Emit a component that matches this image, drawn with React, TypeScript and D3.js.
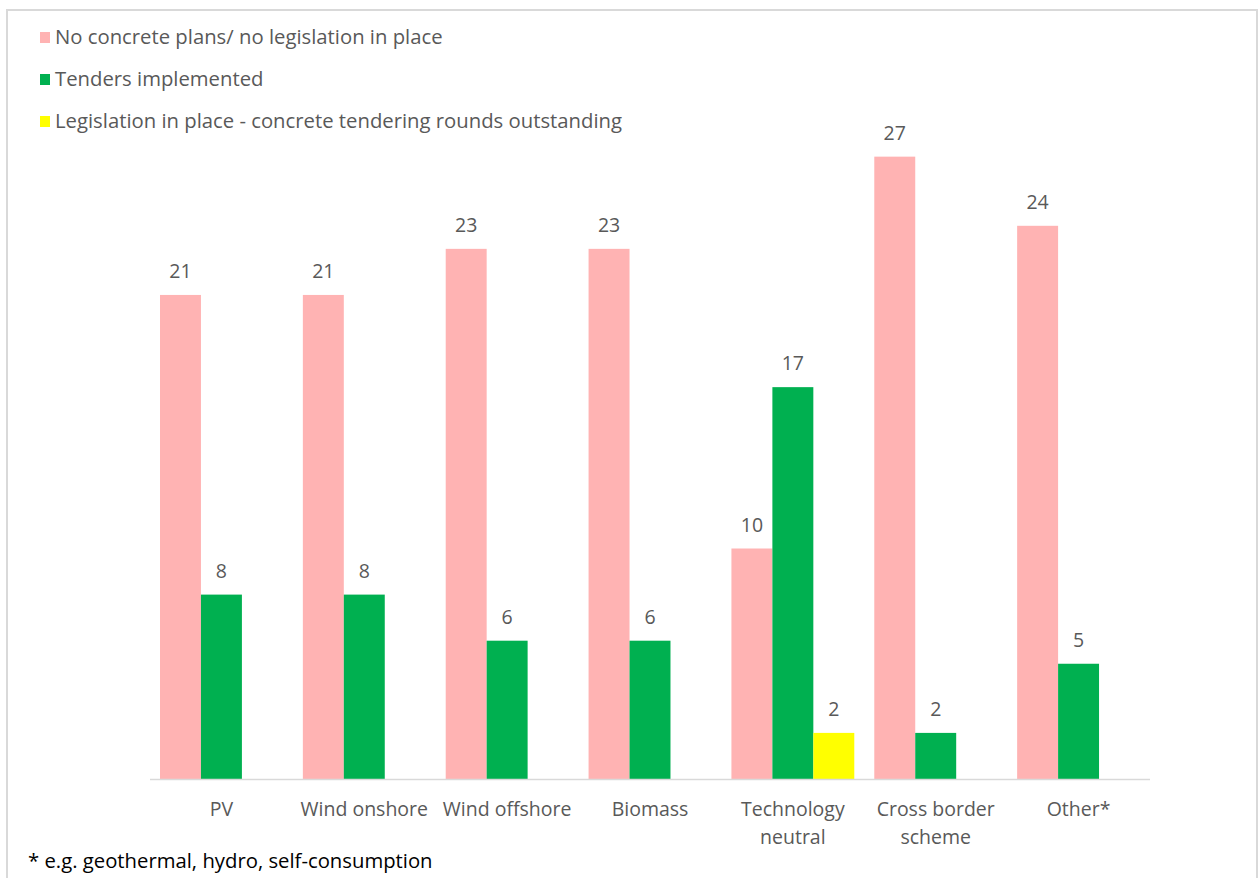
import React from "react";
import * as d3 from "d3";

const categories = [["PV"], ["Wind onshore"], ["Wind offshore"], ["Biomass"], ["Technology", "neutral"], ["Cross border", "scheme"], ["Other*"]];
const seriesNames = [
  "No concrete plans/ no legislation in place",
  "Tenders implemented",
  "Legislation in place - concrete tendering rounds outstanding",
];
const noPlans = [21, 21, 23, 23, 10, 27, 24];
const tenders = [8, 8, 6, 6, 17, 2, 5];
const legislation = [0, 0, 0, 0, 2, 0, 0];
const colors = ["#ffb3b3", "#00b050", "#ffff00"];
const footnote = "* e.g. geothermal, hydro, self-consumption";

const W = 1258;
const H = 878;
const FONT = "'Open Sans', 'Noto Sans', sans-serif";
const TEXT = "#595959";
const FS = 19.5;
const FS_LEG = 20.3;

export default function App() {
  const series = [noPlans, tenders, legislation];
  const keys = categories.map((c) => c.join(" "));
  const x0 = d3.scaleBand<string>().domain(keys).range([150, 1150]).paddingInner(0.14).paddingOuter(0.07);
  const x1 = d3.scaleBand<number>().domain([0, 1, 2]).range([0, x0.bandwidth()]);
  const y = d3.scaleLinear().domain([0, 30]).range([779, 87.5]);

  return (
    <svg width={W} height={H} style={{ position: "absolute", left: 0, top: 0 }} fontFamily={FONT}>
      <rect x={0} y={0} width={W} height={H} fill="#fff" />
      <rect x={7} y={10} width={1250} height={880} fill="none" stroke="#d9d9d9" strokeWidth={2} />
      {seriesNames.map((n, i) => (
        <g key={n} transform={`translate(40,${44 + i * 42})`}>
          <rect x={0} y={-12} width={10} height={11} fill={colors[i]} />
          <text x={15} y={0} fontSize={FS_LEG} fill={TEXT}>{n}</text>
        </g>
      ))}
      {keys.map((k, ci) => (
        <g key={k}>
          {series.map((s, si) =>
            s[ci] > 0 ? (
              <g key={si}>
                <rect
                  x={(x0(k) ?? 0) + x1(si)!}
                  y={y(s[ci])}
                  width={x1.bandwidth()}
                  height={y(0) - y(s[ci])}
                  fill={colors[si]}
                />
                <text
                  x={(x0(k) ?? 0) + x1(si)! + x1.bandwidth() / 2}
                  y={y(s[ci]) - 17}
                  textAnchor="middle"
                  fontSize={FS}
                  fill={TEXT}
                >
                  {s[ci]}
                </text>
              </g>
            ) : null
          )}
        </g>
      ))}
      <line x1={150} x2={1150} y1={y(0) + 0.5} y2={y(0) + 0.5} stroke="#d9d9d9" strokeWidth={1.5} />
      {categories.map((lines, ci) => (
        <text
          key={ci}
          x={(x0(keys[ci]) ?? 0) + x0.bandwidth() / 2}
          y={816}
          textAnchor="middle"
          fontSize={FS}
          fill={TEXT}
        >
          {lines.map((l, li) => (
            <tspan key={li} x={(x0(keys[ci]) ?? 0) + x0.bandwidth() / 2} dy={li === 0 ? 0 : 28}>
              {l}
            </tspan>
          ))}
        </text>
      ))}
      <text x={28} y={868} fontSize={FS_LEG} fill="#000">{footnote}</text>
    </svg>
  );
}
